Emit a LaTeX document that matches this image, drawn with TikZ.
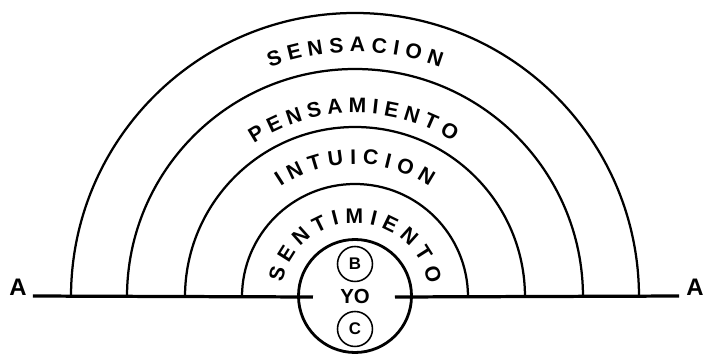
\documentclass[tikz,border=0pt]{standalone}
\usepackage{fontspec}
\setmainfont{Liberation Sans}
\usetikzlibrary{decorations.text}

\newcommand{\arcfont}{\fontsize{15}{17}\selectfont\bfseries}

\begin{document}
\begin{tikzpicture}[x=0.25mm,y=0.25mm]
\useasboundingbox (-355,-57) rectangle (349,297);

\tikzstyle{ring}=[line width=1.6pt]
\tikzstyle{ringtext}=[decorate,
    decoration={text along path, text align={fit to path}}]
\tikzstyle{letter}=[inner sep=0pt, font=\fontsize{17}{19}\selectfont\bfseries]
\tikzstyle{small}=[shape=circle, draw, line width=1.1pt, inner sep=0pt,
    minimum size=8.75mm, font=\fontsize{12}{14}\selectfont\bfseries]

  % yo
  \node[shape=circle, draw, line width=2pt, inner sep=0pt,
    minimum size=28.25mm, font=\fontsize{14.5}{16}\selectfont\bfseries]
    (yo) at (0,1) {YO};
  \node[small] (b) at (0,33) {B};
  \node[small] (c) at (0,-32) {C};

  \node[letter, anchor=south] (aleft) at (-337,1) {A};
  \node[letter, anchor=south] (aright) at (340,1) {A};
  \coordinate (yoL) at (-42,0);
  \coordinate (yoR) at (40,0);

  \draw[line width=2.3pt, shorten <=1.5mm] (aleft.south east) -- (yoL);
  \draw[line width=2.3pt, shorten >=1.75mm] (yoR) -- (aright.south west);

  % rings
  \draw[ring] (-284,0) arc[start angle=180, end angle=0, radius=284];
  \draw[ring] (-228,0) arc[start angle=180, end angle=0, radius=228];
  \draw[ring] (-170,0) arc[start angle=180, end angle=0, radius=170];
  \draw[ring] (-113,0) arc[start angle=180, end angle=0, radius=113];

  % labels
  \path[ringtext, decoration={text={|\arcfont|SENSACION}}]
    (110.3:245) arc[start angle=110.3, end angle=69.6, radius=245];
  \path[ringtext, decoration={text={|\arcfont|PENSAMIENTO}}]
    (123.3:184) arc[start angle=123.3, end angle=57.7, radius=184];
  \path[ringtext, decoration={text={|\arcfont|INTUICION}}]
    (124:133) arc[start angle=124, end angle=56, radius=133];
  \path[ringtext, decoration={text={|\arcfont|SENTIMIENTO}}]
    (169:74) arc[start angle=169, end angle=10, radius=74];

\end{tikzpicture}
\end{document}
